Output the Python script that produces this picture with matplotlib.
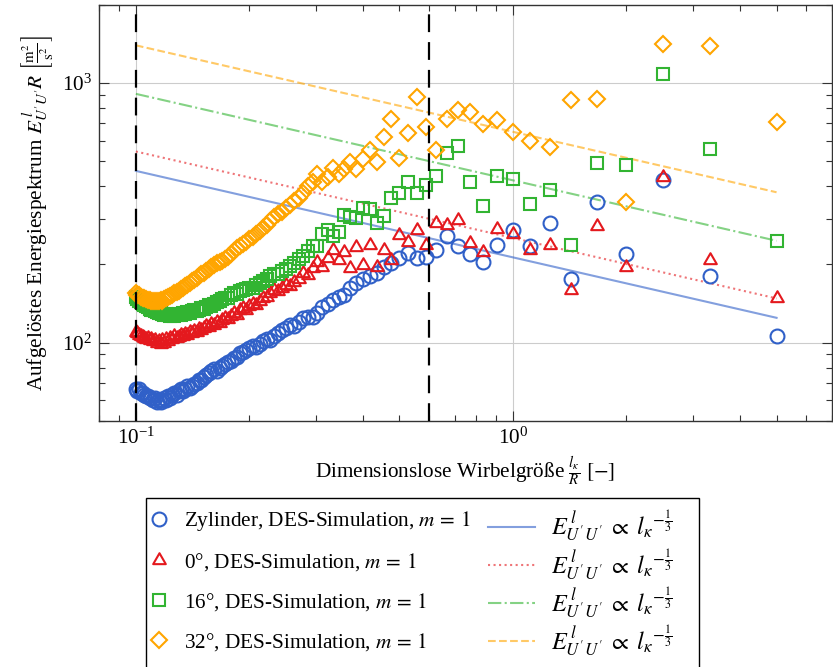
import numpy as np
import matplotlib
matplotlib.use("Agg")
import matplotlib.pyplot as plt
from matplotlib.markers import MarkerStyle
from matplotlib.patches import Rectangle
from matplotlib.path import Path
from matplotlib.ticker import NullFormatter

plt.rcParams["font.family"] = ["Liberation Serif", "DejaVu Serif"]
plt.rcParams["mathtext.fontset"] = "stix"
plt.rcParams["font.size"] = 15.3

# Dimensionless eddy size l_kappa / R
eddy_size = [
    0.1, 0.101, 0.102, 0.1031, 0.1042, 0.1053, 0.1064, 0.1075, 0.1087, 0.1099,
    0.1111, 0.1124, 0.1136, 0.1149, 0.1163, 0.1176, 0.119, 0.1205, 0.122, 0.1235,
    0.125, 0.1266, 0.1282, 0.1299, 0.1316, 0.1333, 0.1351, 0.137, 0.1389, 0.1408,
    0.1429, 0.1449, 0.1471, 0.1493, 0.1515, 0.1538, 0.1563, 0.1587, 0.1613, 0.1639,
    0.1667, 0.1695, 0.1724, 0.1754, 0.1786, 0.1818, 0.1852, 0.1887, 0.1923, 0.1961,
    0.2, 0.2041, 0.2083, 0.2128, 0.2174, 0.2222, 0.2273, 0.2326, 0.2381, 0.2439,
    0.25, 0.2564, 0.2632, 0.2703, 0.2778, 0.2857, 0.2941, 0.303, 0.3125, 0.3226,
    0.3333, 0.3448, 0.3571, 0.3704, 0.3846, 0.4, 0.4167, 0.4348, 0.4545, 0.4762,
    0.5, 0.5263, 0.5556, 0.5882, 0.625, 0.6667, 0.7143, 0.7692, 0.8333, 0.9091,
    1.0, 1.1111, 1.25, 1.4286, 1.6667, 2.0, 2.5, 3.3333, 5.0,
]

# Resolved energy spectrum E^l_{U'U'} R  [m^2/s^2]
e_cylinder = [
    66, 65, 66, 64, 64, 63, 62, 62, 61, 61,
    60, 61, 59, 60, 59, 60, 61, 60, 62, 61,
    63, 64, 63, 65, 66, 65, 66, 68, 67, 68,
    69, 70, 72, 72, 74, 75, 76, 78, 79, 78,
    80, 81, 83, 84, 85, 87, 88, 91, 92, 94,
    95, 97, 96, 99, 101, 103, 102, 106, 109, 112,
    114, 117, 116, 120, 124, 126, 125, 130, 137, 141,
    146, 150, 152, 162, 170, 176, 180, 186, 196, 203,
    211, 221, 211, 214, 228, 258, 236, 219, 205, 238,
    271, 236, 290, 176, 347, 219, 422, 180, 106,
]
e_0deg = [
    110, 109, 107, 106, 105, 104, 103, 104, 102, 103,
    101, 102, 100, 101, 99, 102, 100, 103, 101, 104,
    103, 106, 104, 105, 107, 106, 108, 107, 110, 109,
    111, 110, 113, 112, 114, 116, 115, 118, 117, 120,
    119, 122, 124, 123, 127, 130, 128, 133, 136, 134,
    138, 141, 140, 144, 148, 150, 155, 160, 158, 163,
    166, 165, 171, 176, 186, 182, 194, 205, 196, 212,
    228, 208, 224, 193, 234, 199, 237, 196, 228, 208,
    259, 244, 271, 238, 288, 284, 297, 243, 224, 273,
    261, 228, 238, 160, 281, 196, 435, 209, 149,
]
e_16deg = [
    150, 147, 145, 143, 141, 140, 138, 137, 135, 134,
    133, 132, 131, 130, 130, 129, 128, 129, 128, 127,
    128, 127, 128, 129, 128, 130, 129, 131, 130, 132,
    133, 132, 134, 136, 135, 137, 139, 138, 141, 143,
    145, 147, 149, 148, 152, 155, 154, 158, 160, 161,
    162, 163, 167, 170, 172, 176, 180, 184, 183, 188,
    192, 197, 203, 210, 216, 225, 236, 236, 262, 271,
    258, 267, 310, 304, 301, 331, 326, 289, 307, 361,
    378, 414, 376, 404, 438, 538, 573, 416, 336, 438,
    427, 341, 389, 238, 494, 485, 1087, 557, 246,
]
e_32deg = [
    155, 153, 152, 150, 149, 148, 147, 146, 146, 145,
    145, 144, 145, 144, 146, 145, 147, 148, 150, 151,
    153, 155, 157, 158, 161, 163, 165, 167, 170, 172,
    175, 177, 180, 183, 186, 189, 192, 195, 199, 202,
    204, 207, 210, 214, 220, 225, 231, 236, 240, 244,
    250, 256, 262, 270, 277, 285, 293, 305, 312, 320,
    330, 338, 352, 362, 378, 400, 416, 448, 416, 435,
    470, 448, 468, 497, 468, 510, 551, 497, 620, 730,
    515, 645, 884, 678, 551, 730, 790, 773, 698, 723,
    648, 598, 568, 858, 871, 349, 1409, 1388, 706,
]

series_labels = [
    r"Zylinder, DES-Simulation, $m\,=\,1$",
    r"0°, DES-Simulation, $m\,=\,1$",
    r"16°, DES-Simulation, $m\,=\,1$",
    r"32°, DES-Simulation, $m\,=\,1$",
]
colors = ["#3060c8", "#e4191e", "#32b432", "#ffa500"]

# Inertial range scaling E ~ l^(-1/3)
kolmogorov_exponent = -1.0 / 3.0
kolmogorov_prefactor = [213, 253, 422, 649]
kolmogorov_extent = [0.1, 5.0]
kolmogorov_label = r"$E^{\,l}_{U^{\prime}U^{\prime}}\;\propto\;l_{\kappa}{}^{-\frac{1}{3}}$"
line_styles = ["-", ":", "-.", "--"]

# Boundaries of the evaluated eddy-size range
range_bounds = [0.1, 0.6]

triangle = MarkerStyle(
    Path([(0, 1), (-0.866, -0.5), (0.866, -0.5), (0, 1)], closed=True),
    joinstyle="miter",
)
markers = ["o", triangle, "s", "D"]
marker_sizes = [10, 10.5, 8, 8]

W, H = 833, 667
fig = plt.figure(figsize=(W / 100, H / 100), dpi=100)
ax = fig.add_axes([0.1192, 0.3693, 0.8792, 0.6232])
ax.set_xscale("log")
ax.set_yscale("log")

series = [e_cylinder, e_0deg, e_16deg, e_32deg]
marker_handles = []
for vals, col, mk, ms, lab in zip(series, colors, markers, marker_sizes, series_labels):
    h, = ax.plot(eddy_size, vals, linestyle="none", marker=mk, markersize=ms,
                 markerfacecolor="none", markeredgecolor=col,
                 markeredgewidth=1.5, label=lab, zorder=3)
    marker_handles.append(h)

line_handles = []
xs = np.array(kolmogorov_extent)
for amp, col, ls in zip(kolmogorov_prefactor, colors, line_styles):
    h, = ax.plot(xs, amp * xs ** kolmogorov_exponent, linestyle=ls, color=col,
                 alpha=0.6, linewidth=1.5, zorder=2, label=kolmogorov_label)
    line_handles.append(h)

for xb in range_bounds:
    ax.axvline(xb, color="black", linewidth=1.6, linestyle=(0, (8, 4.5)), zorder=4)

ax.set_xlim(0.08, 7.0)
ax.set_ylim(50, 2000)

ax.grid(True, which="major", color="#cccccc", linewidth=0.8, zorder=0)
ax.set_axisbelow(True)
ax.xaxis.set_minor_formatter(NullFormatter())
ax.yaxis.set_minor_formatter(NullFormatter())
ax.tick_params(which="both", direction="in", top=True, right=True,
               color="#333333", width=0.8)
ax.tick_params(which="major", length=7, labelsize=15.3, pad=5)
ax.tick_params(which="minor", length=4.5)
for sp in ax.spines.values():
    sp.set_color("#333333")
    sp.set_linewidth(1.0)

ax.set_xlabel(r"Dimensionslose Wirbelgröße $\frac{l_{\kappa}}{R}$ $[-]$", labelpad=4)
ax.set_ylabel(r"Aufgelöstes Energiespektrum $E^{\,l}_{U^{\prime}U^{\prime}}R$ $\left[\frac{\mathrm{m}^2}{\mathrm{s}^2}\right]$",
              labelpad=5)

# Legend: two aligned columns inside one common frame
fig.add_artist(Rectangle((146 / W, 1 - 672 / H), (699 - 146) / W, (672 - 498) / H,
                         transform=fig.transFigure, fill=False,
                         edgecolor="black", linewidth=1.0, zorder=5))
fig.legend(marker_handles, series_labels, loc="upper left",
           bbox_to_anchor=(152 / W, 1 - 509 / H), bbox_transform=fig.transFigure,
           numpoints=1, handlelength=0.7, handletextpad=0.82,
           labelspacing=0.85, borderpad=0, borderaxespad=0, frameon=False,
           fontsize=15.3)
fig.legend(line_handles, [kolmogorov_label] * 4, loc="upper left",
           bbox_to_anchor=(488 / W, 1 - 509 / H), bbox_transform=fig.transFigure,
           handlelength=1.95, handletextpad=0.66, labelspacing=0.12,
           borderpad=0, borderaxespad=0, frameon=False, fontsize=17.5)

fig.savefig("out.png", dpi=100)
